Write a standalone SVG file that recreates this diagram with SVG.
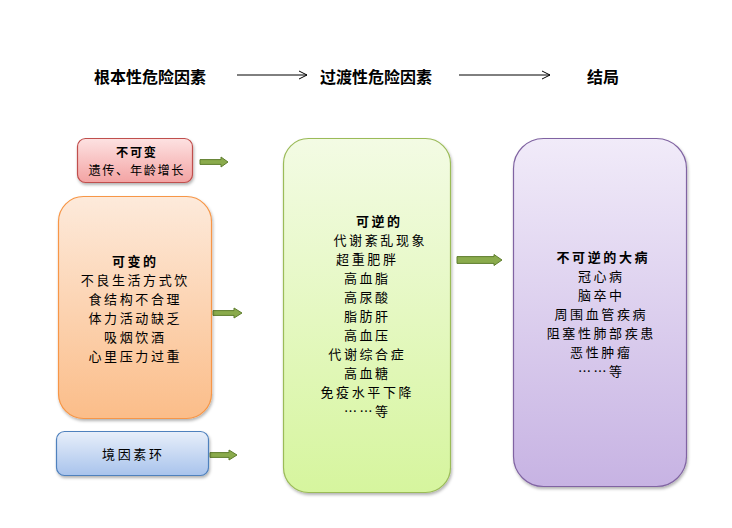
<svg xmlns="http://www.w3.org/2000/svg" width="732" height="528" viewBox="0 0 732 528">
<style>
text{font-family:"Noto Sans CJK SC","Noto Sans CJK TC",sans-serif;fill:#000;text-anchor:middle;font-size:13px;letter-spacing:2.6px}
.t{font-size:16px;font-weight:bold;letter-spacing:0}
.b{font-weight:bold}
.s{font-size:12.2px;letter-spacing:1.6px}
.box{stroke-width:1.2}
.blk{fill:#8aab4c;stroke:#5f7e2e;stroke-width:1}
.ln{stroke:#000;stroke-width:1;fill:none}
</style>
<defs>
<linearGradient id="gPink" x1="0" y1="0" x2="0" y2="1"><stop offset="0" stop-color="#fde2e2"/><stop offset="1" stop-color="#f3a3a3"/></linearGradient>
<linearGradient id="gOrange" x1="0" y1="0" x2="0" y2="1"><stop offset="0" stop-color="#fdeadb"/><stop offset="1" stop-color="#fbbd89"/></linearGradient>
<linearGradient id="gBlue" x1="0" y1="0" x2="0" y2="1"><stop offset="0" stop-color="#e8effa"/><stop offset="1" stop-color="#a8c3ec"/></linearGradient>
<linearGradient id="gGreen" x1="0" y1="0" x2="0" y2="1"><stop offset="0" stop-color="#f3fbe4"/><stop offset="1" stop-color="#d6f59e"/></linearGradient>
<linearGradient id="gPurple" x1="0" y1="0" x2="0" y2="1"><stop offset="0" stop-color="#f1ebf9"/><stop offset="1" stop-color="#c7b3e3"/></linearGradient>
<filter id="sh" x="-10%" y="-10%" width="130%" height="130%"><feDropShadow dx="1" dy="2" stdDeviation="1.8" flood-color="#000" flood-opacity="0.3"/></filter>
</defs>
<rect width="732" height="528" fill="#fff"/>

<g id="titles">
<text class="t" x="150" y="83">根本性危险因素</text>
<text class="t" x="376" y="83">过渡性危险因素</text>
<text class="t" x="603" y="83">结局</text>
</g>

<g id="connectors">
<path class="ln" d="M237 75H307M299 71L307 75L299 79"/>
<path class="ln" d="M459 75H550M542 71L550 75L542 79"/>
<path class="blk" d="M200 159.6H221V157L228 162L221 167V164.4H200Z"/>
<path class="blk" d="M213 310.6H234V308L242 313L234 318V315.4H213Z"/>
<path class="blk" d="M210 452.6H229V450L237 455L229 460V457.4H210Z"/>
<path class="blk" d="M457 256.6H494V254.5L502 260L494 265.5V263.4H457Z"/>
</g>

<g id="node-fixed">
<rect class="box" x="77.5" y="138.5" width="115" height="44" rx="8" fill="url(#gPink)" stroke="#c0504d" filter="url(#sh)"/>
<text class="s" x="136.8" y="156.5"><tspan class="b">不可变</tspan><tspan x="136.8" y="174.5">遗传、年龄增长</tspan></text>
</g>

<g id="node-variable">
<rect class="box" x="58.5" y="196.5" width="153" height="222" rx="25" fill="url(#gOrange)" stroke="#f79646" filter="url(#sh)"/>
<text x="135.3" y="266"><tspan class="b">可变的</tspan><tspan x="135.3" y="285">不良生活方式饮</tspan><tspan x="135.3" y="304">食结构不合理</tspan><tspan x="135.3" y="323">体力活动缺乏</tspan><tspan x="135.3" y="342">吸烟饮酒</tspan><tspan x="135.3" y="361">心里压力过重</tspan></text>
</g>

<g id="node-env">
<rect class="box" x="56.5" y="431.5" width="152" height="44" rx="8" fill="url(#gBlue)" stroke="#4f81bd" filter="url(#sh)"/>
<text x="133.3" y="458.5">境因素环</text>
</g>

<g id="node-reversible">
<rect class="box" x="283.5" y="138.5" width="167" height="354" rx="25" fill="url(#gGreen)" stroke="#9bbb59" filter="url(#sh)"/>
<text x="379.3" y="226"><tspan class="b">可逆的</tspan><tspan x="380.3" y="245">代谢紊乱现象</tspan><tspan x="367.3" y="264">超重肥胖</tspan><tspan x="367.3" y="283">高血脂</tspan><tspan x="367.3" y="302">高尿酸</tspan><tspan x="367.3" y="321">脂肪肝</tspan><tspan x="367.3" y="340">高血压</tspan><tspan x="367.3" y="359">代谢综合症</tspan><tspan x="367.3" y="378">高血糖</tspan><tspan x="367.3" y="397">免疫水平下降</tspan><tspan x="367.3" y="416">……等</tspan></text>
</g>

<g id="node-irreversible">
<rect class="box" x="513.5" y="138.5" width="173" height="348" rx="30" fill="url(#gPurple)" stroke="#8064a2" filter="url(#sh)"/>
<text x="603.3" y="262"><tspan class="b">不可逆的大病</tspan><tspan x="601.3" y="281">冠心病</tspan><tspan x="601.3" y="300">脑卒中</tspan><tspan x="601.3" y="319">周围血管疾病</tspan><tspan x="601.3" y="338">阻塞性肺部疾患</tspan><tspan x="601.3" y="357">恶性肿瘤</tspan><tspan x="601.3" y="376">……等</tspan></text>
</g>
</svg>
